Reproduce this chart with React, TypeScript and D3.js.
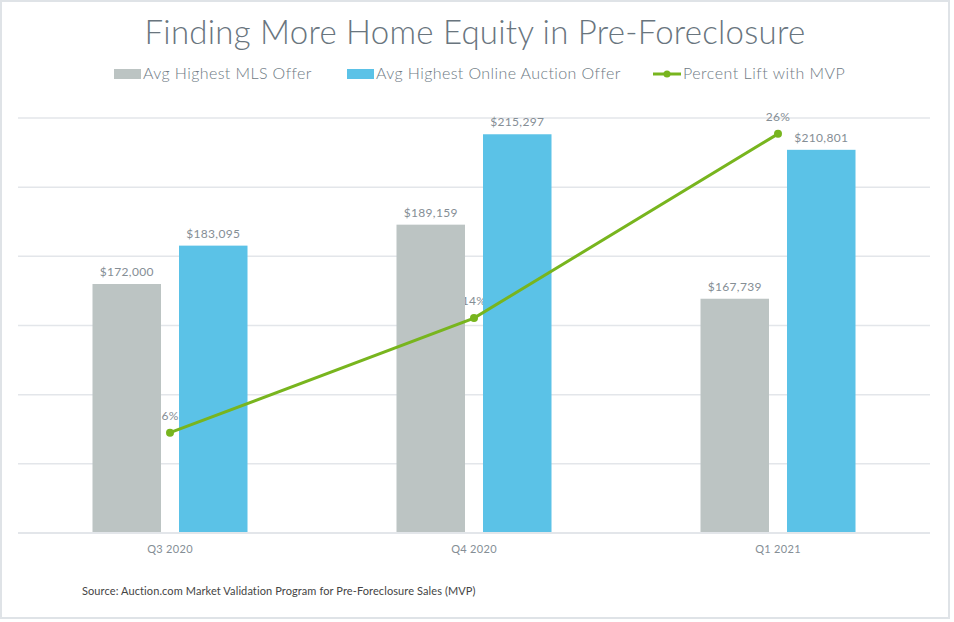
import React from "react";
import * as d3 from "d3";

const categories = ["Q3 2020", "Q4 2020", "Q1 2021"];
const mlsOffer = [172000, 189159, 167739];
const auctionOffer = [183095, 215297, 210801];
const percentLift = [0.0645, 0.1382, 0.2567];
const percentLabels = ["6%", "14%", "26%"];
const yTicks = [100000, 120000, 140000, 160000, 180000, 200000, 220000];
const seriesNames = ["Avg Highest MLS Offer", "Avg Highest Online Auction Offer", "Percent Lift with MVP"];

const W = 954;
const H = 622;
const GRAY = "#bcc4c3";
const BLUE = "#5bc2e7";
const GREEN = "#78b51e";
const FONT = "Lato, 'Open Sans', sans-serif";

export default function App() {
  const left = 18, right = 930, top = 118, bottom = 533;
  const x = d3.scaleBand<string>().domain(categories).range([left, right]).padding(0);
  const y = d3.scaleLinear().domain([100000, 220000]).range([bottom, top]);
  const y2 = d3.scaleLinear().domain([0, 0.2669]).range([bottom, top]);
  const barW = 68.5;
  const gap = 18;
  const fmt = (v: number) => "$" + d3.format(",")(v);
  const cx = (c: string) => (x(c) as number) + x.bandwidth() / 2;

  const line = d3
    .line<number>()
    .x((_, i) => cx(categories[i]))
    .y((d) => y2(d));

  const labelStyle = { fontSize: 12, fill: "#858e95", fontWeight: 400, letterSpacing: 0.3 } as const;

  return (
    <svg
      width={W}
      height={H}
      style={{ position: "absolute", left: 0, top: 0, background: "#fff" }}
      fontFamily={FONT}
    >
      <rect x={1} y={1} width={948} height={617} fill="#fff" stroke="#dfe3e7" strokeWidth={2} />
      <text x={475} y={44} textAnchor="middle" fontSize={33} fontWeight={300} letterSpacing={0.25} fill="#69757e">
        Finding More Home Equity in Pre-Foreclosure
      </text>

      {/* legend */}
      <rect x={114} y={69} width={27} height={10} fill={GRAY} />
      <text x={143} y={79} fontSize={16} fontWeight={300} letterSpacing={0.4} fill="#6e7a84">{seriesNames[0]}</text>
      <rect x={347} y={69} width={27} height={10} fill={BLUE} />
      <text x={376} y={79} fontSize={16} fontWeight={300} letterSpacing={0.4} fill="#6e7a84">{seriesNames[1]}</text>
      <line x1={653} x2={681} y1={74} y2={74} stroke={GREEN} strokeWidth={3} />
      <circle cx={667} cy={74} r={3.5} fill={GREEN} />
      <text x={683} y={79} fontSize={16} fontWeight={300} letterSpacing={0.5} fill="#6e7a84">{seriesNames[2]}</text>

      {/* gridlines */}
      {yTicks.map((t) => (
        <line key={t} x1={left} x2={right} y1={y(t)} y2={y(t)} stroke="#e3e6ea" strokeWidth={1.5} />
      ))}

      {/* percent labels (behind bars) */}
      {percentLift.map((p, i) => (
        <text key={"pl" + i} x={cx(categories[i])} y={y2(p) - 13} textAnchor="middle" {...labelStyle}>
          {percentLabels[i]}
        </text>
      ))}

      {/* bars */}
      {categories.map((c, i) => {
        const c0 = cx(c);
        const x1 = c0 - gap / 2 - barW;
        const x2 = c0 + gap / 2;
        return (
          <g key={c}>
            <rect x={x1} y={y(mlsOffer[i])} width={barW} height={bottom - y(mlsOffer[i])} fill={GRAY} />
            <rect x={x2} y={y(auctionOffer[i])} width={barW} height={bottom - y(auctionOffer[i])} fill={BLUE} />
            <text x={x1 + barW / 2} y={y(mlsOffer[i]) - 8} textAnchor="middle" {...labelStyle}>
              {fmt(mlsOffer[i])}
            </text>
            <text x={x2 + barW / 2} y={y(auctionOffer[i]) - 8} textAnchor="middle" {...labelStyle}>
              {fmt(auctionOffer[i])}
            </text>
            <text x={c0} y={553} textAnchor="middle" fontSize={11} letterSpacing={0.3} fill="#858e95">
              {c}
            </text>
          </g>
        );
      })}

      <line x1={left} x2={right} y1={bottom} y2={bottom} stroke="#e3e6ea" strokeWidth={2} />

      {/* line */}
      <path d={line(percentLift) || ""} fill="none" stroke={GREEN} strokeWidth={3} />
      {percentLift.map((p, i) => (
        <circle key={"pt" + i} cx={cx(categories[i])} cy={y2(p)} r={4} fill={GREEN} />
      ))}

      <text x={82} y={595} fontSize={11} letterSpacing={0.1} fill="#444">
        Source: Auction.com Market Validation Program for Pre-Foreclosure Sales (MVP)
      </text>
    </svg>
  );
}
